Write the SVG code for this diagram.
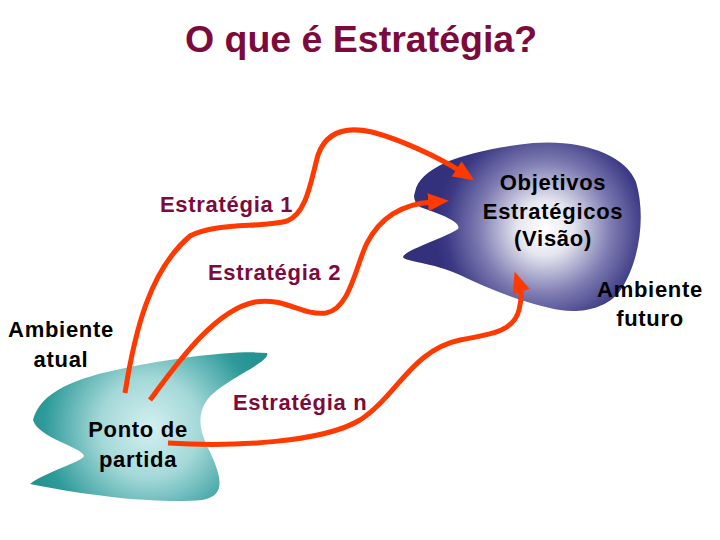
<svg xmlns="http://www.w3.org/2000/svg" width="720" height="540" viewBox="0 0 720 540">
<defs>
<style>
.t{font-family:"Liberation Sans",Arial,sans-serif;font-weight:bold;font-size:22px;letter-spacing:0.7px}
.blk{fill:#000}
.mg{fill:#7d0a3c}
.conn{fill:none;stroke:#ff3a00;stroke-width:5;stroke-linecap:butt}
</style>
<radialGradient id="gTeal" cx="150" cy="428" r="125" gradientUnits="userSpaceOnUse">
<stop offset="0" stop-color="#d4f0f0"/>
<stop offset="0.4" stop-color="#a4d8d8"/>
<stop offset="0.85" stop-color="#2e9a9a"/>
<stop offset="1" stop-color="#259292"/>
</radialGradient>
<radialGradient id="gPurp" cx="545" cy="228" r="110" gradientUnits="userSpaceOnUse">
<stop offset="0" stop-color="#ffffff"/>
<stop offset="0.25" stop-color="#e6e6f0"/>
<stop offset="0.6" stop-color="#7e7cb2"/>
<stop offset="0.9" stop-color="#3c3a84"/>
<stop offset="1" stop-color="#33317c"/>
</radialGradient>
<marker id="ah" markerUnits="userSpaceOnUse" markerWidth="22" markerHeight="18" refX="4" refY="9" orient="auto">
<path d="M0,0 L21,9 L0,18 Z" fill="#ff3a00"/>
</marker>
</defs>
<rect width="720" height="540" fill="#fff"/>
<text x="361" y="52" text-anchor="middle" style="font-family:'Liberation Sans',Arial,sans-serif;font-weight:bold;font-size:37.5px" fill="#7d0a3c">O que é Estratégia?</text>
<g id="ambiente-atual">
<path d="M33,420 C40,392 75,378 125,368 C175,358 235,350 267,353 C272,362 222,380 207,400 C196,416 200,432 210,452 C222,478 226,496 202,500 C170,503 110,500 30,484 C45,472 82,462 84,456 C84,448 38,438 33,420 Z" fill="url(#gTeal)"/>
<text class="t blk" x="61" y="337" text-anchor="middle">Ambiente</text>
<text class="t blk" x="61" y="367" text-anchor="middle">atual</text>
<text class="t blk" x="138" y="437" text-anchor="middle">Ponto de</text>
<text class="t blk" x="138" y="467" text-anchor="middle">partida</text>
</g>
<g id="objetivos">
<path d="M415,192 C420,165 470,150 533,143 C582,139 626,155 636,182 C646,215 640,262 620,291 C605,310 580,313 560,310 C530,305 490,290 460,275 C432,262 405,262 403,257 C405,250 440,240 458,229 C462,222 440,214 420,207 C414,202 413,197 415,192 Z" fill="url(#gPurp)"/>
<text class="t blk" x="553" y="190" text-anchor="middle">Objetivos</text>
<text class="t blk" x="553" y="219" text-anchor="middle">Estratégicos</text>
<text class="t blk" x="553" y="246" text-anchor="middle">(Visão)</text>
</g>
<g id="ambiente-futuro">
<text class="t blk" x="650" y="297" text-anchor="middle">Ambiente</text>
<text class="t blk" x="650" y="326" text-anchor="middle">futuro</text>
</g>
<g id="connectors">
<path class="conn" marker-end="url(#ah)" d="M125,393 C135,330 150,270 190,236 C215,222 262,228 287,221 C307,213 311,180 318,155 C326,132 345,126 372,132 C402,140 440,158 460,171"/>
<path class="conn" marker-end="url(#ah)" d="M150,400 C178,362 215,310 255,302 C285,297 302,316 326,313 C350,309 356,265 367,243 C380,218 402,204 432,202"/>
<path class="conn" marker-end="url(#ah)" d="M168,443 C230,447 322,443 360,420 C396,397 412,350 460,340 C495,334 514,330 519,310 C522,298 521,291 520,288"/>
</g>
<g id="labels">
<text class="t mg" x="160" y="212">Estratégia 1</text>
<text class="t mg" x="208" y="280">Estratégia 2</text>
<text class="t mg" x="233" y="410">Estratégia n</text>
</g>
</svg>
